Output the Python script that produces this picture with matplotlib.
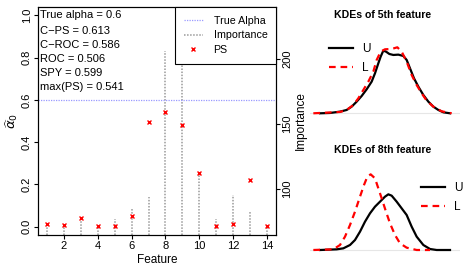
import matplotlib
matplotlib.use("Agg")
import matplotlib.pyplot as plt
from matplotlib.lines import Line2D

plt.rcParams['font.family'] = ['Liberation Sans', 'DejaVu Sans']

# values
features = list(range(1, 15))
ps = [0.013, 0.006, 0.041, 0.005, 0.002, 0.049, 0.494, 0.541, 0.483, 0.256, 0.003, 0.014, 0.219, 0.003]
importance = [73.4, 73.0, 76.6, 71.0, 76.6, 85.0, 94.0, 206.0, 233.6, 112.5, 76.6, 95.3, 82.0, 71.0]
true_alpha = 0.6
stat_names = ["True alpha", "C\u2212PS", "C\u2212ROC", "ROC", "SPY", "max(PS)"]
stat_values = ["0.6", "0.613", "0.586", "0.506", "0.599", "0.541"]

# KDE curves (feature value grid, density), read point by point
kde5_u_x = [0.30, 0.60, 0.90, 1.10, 1.25, 1.40, 1.55, 1.70, 1.85, 1.95, 2.05, 2.12, 2.20, 2.28,
            2.38, 2.50, 2.65, 2.80, 2.90, 3.00, 3.12, 3.25, 3.40, 3.55, 3.70, 3.85, 4.00, 4.20]
kde5_u = [0, 0.01, 0.05, 0.10, 0.20, 0.35, 0.52, 0.72, 0.95, 1.20, 1.50, 1.70, 1.88, 1.85,
          1.78, 1.75, 1.76, 1.72, 1.60, 1.35, 1.05, 0.80, 0.55, 0.35, 0.20, 0.10, 0.03, 0]
kde5_l_x = [0.10, 0.90, 1.10, 1.30, 1.45, 1.60, 1.75, 1.90, 2.00, 2.12, 2.25, 2.45, 2.62, 2.75,
            2.90, 3.05, 3.20, 3.35, 3.50, 3.70, 3.95, 4.25]
kde5_l = [0, 0.04, 0.10, 0.25, 0.45, 0.70, 0.95, 1.25, 1.60, 1.85, 1.92, 1.93, 1.98, 1.85,
          1.55, 1.15, 0.85, 0.60, 0.38, 0.20, 0.06, 0]
kde8_u_x = [0.30, 0.80, 1.00, 1.20, 1.35, 1.50, 1.65, 1.80, 1.95, 2.10, 2.25, 2.35, 2.45, 2.60,
            2.75, 2.90, 3.05, 3.20, 3.40, 3.60, 3.80, 4.20]
kde8_u = [0, 0.02, 0.05, 0.15, 0.30, 0.55, 0.85, 1.10, 1.30, 1.45, 1.60, 1.67, 1.63, 1.45,
          1.25, 1.05, 0.70, 0.40, 0.15, 0.03, 0, 0]
kde8_l_x = [0.10, 0.70, 0.90, 1.05, 1.20, 1.35, 1.50, 1.62, 1.72, 1.82, 1.95, 2.05, 2.15, 2.28,
            2.40, 2.55, 2.70, 2.90, 3.20, 3.60]
kde8_l = [0, 0.02, 0.15, 0.40, 0.75, 1.15, 1.60, 1.95, 2.20, 2.27, 2.15, 1.85, 1.55, 1.15,
          0.80, 0.45, 0.20, 0.07, 0, 0]

W, H = 463, 273
fig = plt.figure(figsize=(W / 100, H / 100), dpi=100)

def box(l, r, t, b):
    return [l / W, 1 - b / H, (r - l) / W, (b - t) / H]

ax = fig.add_axes(box(38, 276, 7, 235))
ax2 = ax.twinx()
ax.set_zorder(ax2.get_zorder() + 1)
ax.patch.set_visible(False)

rng = max(importance) - min(importance)
ilo, ihi = min(importance) - 0.04 * rng, max(importance) + 0.04 * rng
ax2.vlines(features, ilo, importance, colors="#9a9a9a", linestyles=(0, (1, 1)), linewidth=1.1)
ax2.set_ylim(ilo, ihi)
ax2.set_yticks([100, 150, 200])
ax2.set_ylabel("Importance", fontsize=8.5, labelpad=2)
for t in ax2.get_yticklabels():
    t.set_rotation(90)
    t.set_va("center")

ax.axhline(true_alpha, color="#9a9aff", linestyle=(0, (1, 1)), linewidth=0.9)
ax.plot(features, ps, "x", color="red", markersize=3.5, markeredgewidth=1.0)
ax.set_xlim(0.48, 14.52)
ax.set_ylim(-0.04, 1.04)
ax.set_xticks([2, 4, 6, 8, 10, 12, 14])
ax.set_yticks([0.0, 0.2, 0.4, 0.6, 0.8, 1.0])
ax.set_yticklabels(["0.0", "0.2", "0.4", "0.6", "0.8", "1.0"], rotation=90, va="center")
ax.set_xlabel("Feature", fontsize=8.5, labelpad=2)
ax.set_ylabel(r"$\widehat{\alpha}_0$", fontsize=9.5, labelpad=1)

for a in (ax, ax2):
    a.tick_params(labelsize=8, length=3, pad=1.5, width=0.8)
    for s in a.spines.values():
        s.set_linewidth(0.8)

ys = [15, 31, 45, 59, 73, 87]
for name, val, yp in zip(stat_names, stat_values, ys):
    ax.text(0.008, (235 - yp) / 228, name + " = " + val, transform=ax.transAxes,
            fontsize=8, va="center", ha="left")

handles = [Line2D([], [], color="#9a9aff", linestyle=(0, (1, 1)), linewidth=0.9),
           Line2D([], [], color="#9a9a9a", linestyle=(0, (1, 1)), linewidth=1.1),
           Line2D([], [], color="red", marker="x", linestyle="none", markersize=3.5)]
leg = ax.legend(handles, ["True Alpha", "Importance", "PS"], loc="upper right",
                borderaxespad=0, fontsize=7.7, handlelength=1.8, handletextpad=1.0,
                borderpad=0.8, labelspacing=0.45, fancybox=False, framealpha=1)
leg.get_frame().set_edgecolor("black")
leg.get_frame().set_linewidth(0.8)

# KDE panels
dash = (0, (3, 2.2))
for (t, b, base, title, xs_u, u, xs_l, l, lpos) in [
        (25, 120, 113.3, "KDEs of 5th feature", kde5_u_x, kde5_u, kde5_l_x, kde5_l, (323, 37)),
        (160, 257, 250, "KDEs of 8th feature", kde8_u_x, kde8_u, kde8_l_x, kde8_l, (415, 176))]:
    k = fig.add_axes(box(310, 460, t, b))
    k.axhline(0, color="#e6e6e6", linewidth=0.8)
    k.plot(xs_u, u, color="black", linewidth=1.6, label="U")
    k.plot(xs_l, l, color="red", linewidth=1.6, linestyle=dash, label="L")
    k.set_xlim(0, 4.5)
    k.set_ylim(-(b - base) * 0.03, (base - t) * 0.03)
    k.axis("off")
    fig.text(383 / W, 1 - (t - 10) / H, title, fontsize=7.6, fontweight="bold",
             ha="center", va="center")
    k.legend(loc="upper left", bbox_to_anchor=(lpos[0] / W, 1 - lpos[1] / H),
             bbox_transform=fig.transFigure, frameon=False, fontsize=8.5,
             borderpad=0, handlelength=2.0, handletextpad=0.8, labelspacing=0.6)

fig.savefig("out.png", dpi=100)
